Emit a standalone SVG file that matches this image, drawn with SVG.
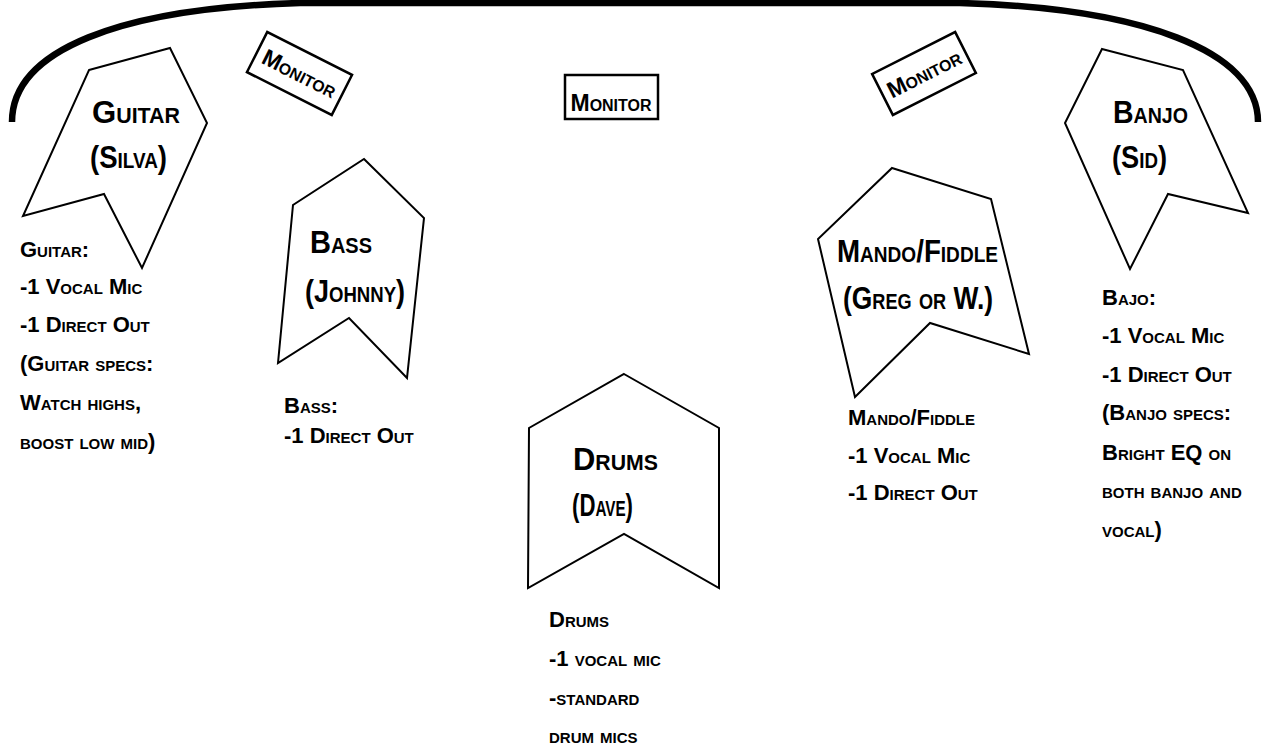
<svg xmlns="http://www.w3.org/2000/svg" width="1263" height="746" viewBox="0 0 1263 746">
<style>
.shape{fill:#fff;stroke:#000;stroke-width:2;stroke-linejoin:miter}
.mon{fill:#fff;stroke:#000;stroke-width:2.5}
text{font-family:"Liberation Sans",Arial,sans-serif;font-weight:bold;font-variant:small-caps;fill:#000}
.lbl{font-size:32px}
.lst{font-size:22px}
.mt{font-size:23px;text-anchor:middle}
</style>
<rect width="1263" height="746" fill="#fff"/>
<g id="stage">
<path d="M12,122 C12,50 120,8 300,3 L960,3 C1140,8 1258,50 1258,122" fill="none" stroke="#000" stroke-width="6.5"/>
</g>
<g id="monitor-left" transform="translate(299.5,73.5) rotate(26.8)">
<rect class="mon" x="-47.5" y="-22.5" width="95" height="45"/>
<text class="mt" x="0" y="8" textLength="80" lengthAdjust="spacingAndGlyphs">Monitor</text>
</g>
<g id="monitor-center">
<rect class="mon" x="565" y="75" width="93" height="44"/>
<text class="mt" x="611" y="111" textLength="81" lengthAdjust="spacingAndGlyphs">Monitor</text>
</g>
<g id="monitor-right" transform="translate(924,73.5) rotate(-26.8)">
<rect class="mon" x="-46.5" y="-23" width="93" height="46"/>
<text class="mt" x="0" y="8" textLength="80" lengthAdjust="spacingAndGlyphs">Monitor</text>
</g>
<g id="guitar">
<polygon class="shape" points="89,70 170,48 207,123 142,268 104,194 23,216"/>
<text class="lbl" x="92" y="123" textLength="88" lengthAdjust="spacingAndGlyphs">Guitar</text>
<text class="lbl" x="90" y="168" textLength="77" lengthAdjust="spacingAndGlyphs">(Silva)</text>
</g>
<g id="bass">
<polygon class="shape" points="364,159 424,218 407,378 349,318 278,363 293,205"/>
<text class="lbl" x="310" y="253" textLength="62" lengthAdjust="spacingAndGlyphs">Bass</text>
<text class="lbl" x="305" y="302" textLength="100" lengthAdjust="spacingAndGlyphs">(Johnny)</text>
</g>
<g id="drums">
<polygon class="shape" points="624,374 719,428 719,588 624,534 528,588 529,428"/>
<text class="lbl" x="573" y="470" textLength="85" lengthAdjust="spacingAndGlyphs">Drums</text>
<text class="lbl" x="572" y="516" textLength="61" lengthAdjust="spacingAndGlyphs">(Dave)</text>
</g>
<g id="mando">
<polygon class="shape" points="892,168 991,199 1029,354 930,323 855,397 818,239"/>
<text class="lbl" x="837" y="262" textLength="161" lengthAdjust="spacingAndGlyphs">Mando/Fiddle</text>
<text class="lbl" x="843" y="309" textLength="150" lengthAdjust="spacingAndGlyphs">(Greg or W.)</text>
</g>
<g id="banjo">
<polygon class="shape" points="1102,49 1183,70 1248,213 1168,194 1130,269 1065,123"/>
<text class="lbl" x="1113" y="123" textLength="75" lengthAdjust="spacingAndGlyphs">Banjo</text>
<text class="lbl" x="1112" y="168" textLength="55" lengthAdjust="spacingAndGlyphs">(Sid)</text>
</g>
<g id="guitar-notes">
<text class="lst" x="20" y="257">Guitar:</text>
<text class="lst" x="20" y="294">-1 Vocal Mic</text>
<text class="lst" x="20" y="332">-1 Direct Out</text>
<text class="lst" x="20" y="371">(Guitar specs:</text>
<text class="lst" x="20" y="410">Watch highs,</text>
<text class="lst" x="20" y="449">boost low mid)</text>
</g>
<g id="bass-notes">
<text class="lst" x="284" y="413">Bass:</text>
<text class="lst" x="284" y="443">-1 Direct Out</text>
</g>
<g id="drums-notes">
<text class="lst" x="549" y="627">Drums</text>
<text class="lst" x="549" y="666">-1 vocal mic</text>
<text class="lst" x="549" y="705">-standard</text>
<text class="lst" x="549" y="743">drum mics</text>
</g>
<g id="mando-notes">
<text class="lst" x="848" y="425">Mando/Fiddle</text>
<text class="lst" x="848" y="463">-1 Vocal Mic</text>
<text class="lst" x="848" y="500">-1 Direct Out</text>
</g>
<g id="banjo-notes">
<text class="lst" x="1102" y="305">Bajo:</text>
<text class="lst" x="1102" y="343">-1 Vocal Mic</text>
<text class="lst" x="1102" y="382">-1 Direct Out</text>
<text class="lst" x="1102" y="420">(Banjo specs:</text>
<text class="lst" x="1102" y="460">Bright EQ on</text>
<text class="lst" x="1102" y="498">both banjo and</text>
<text class="lst" x="1102" y="537">vocal)</text>
</g>
<g id="connectors"></g>
</svg>
